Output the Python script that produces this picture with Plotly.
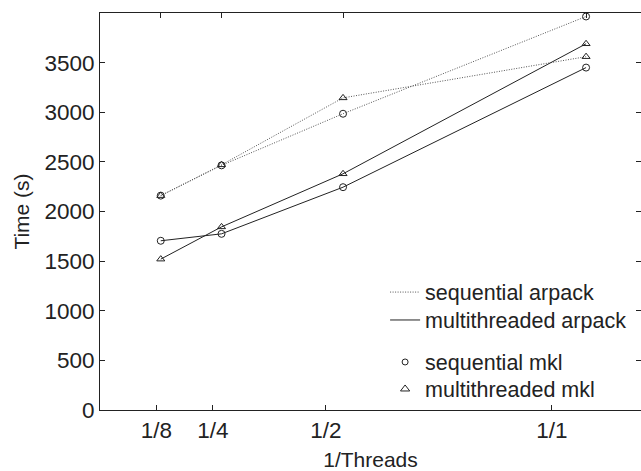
import plotly.graph_objects as go

x_vals = [0.125, 0.25, 0.5, 1.0]
x_labels = ["1/8", "1/4", "1/2", "1/1"]
y_ticks = [0, 500, 1000, 1500, 2000, 2500, 3000, 3500]

seq_arpack_seq_mkl = [2160, 2465, 2985, 3965]
seq_arpack_mt_mkl = [2160, 2470, 3145, 3560]
mt_arpack_seq_mkl = [1705, 1775, 2245, 3450]
mt_arpack_mt_mkl = [1520, 1845, 2380, 3690]

legend_names = ["sequential arpack", "multithreaded arpack", "sequential mkl", "multithreaded mkl"]

FONT = "Liberation Sans, Arial, sans-serif"
DARK = "#222222"
DOT = "#555555"
DOTDASH = "1px,1.5px"
FS_TICK = 22.5
FS_TITLE = 21
FS_LEG = 21.5

fig = go.Figure()

def add(y, dash, color, symbol):
    fig.add_trace(go.Scatter(
        x=x_vals, y=y, mode="lines+markers", showlegend=False,
        line=dict(color=color, width=1, dash=dash),
        marker=dict(symbol=symbol, size=7, color=DARK, line=dict(width=1)),
        xaxis="x", yaxis="y"))

add(seq_arpack_seq_mkl, DOTDASH, DOT, "circle-open")
add(seq_arpack_mt_mkl, DOTDASH, DOT, "triangle-up-open")
add(mt_arpack_seq_mkl, "solid", DARK, "circle-open")
add(mt_arpack_mt_mkl, "solid", DARK, "triangle-up-open")

# legend entries, each in its own legend box
fig.add_trace(go.Scatter(x=[None], y=[None], mode="lines", name=legend_names[0],
                         line=dict(color=DOT, width=1, dash=DOTDASH),
                         legend="legend", xaxis="x2", yaxis="y"))
fig.add_trace(go.Scatter(x=[None], y=[None], mode="lines", name=legend_names[1],
                         line=dict(color=DARK, width=1),
                         legend="legend2", xaxis="x2", yaxis="y"))
fig.add_trace(go.Scatter(x=[None], y=[None], mode="markers", name=legend_names[2],
                         marker=dict(symbol="circle-open", size=6, color=DARK, line=dict(width=1)),
                         legend="legend3", xaxis="x2", yaxis="y"))
fig.add_trace(go.Scatter(x=[None], y=[None], mode="markers", name=legend_names[3],
                         marker=dict(symbol="triangle-up-open", size=8, color=DARK, line=dict(width=1)),
                         legend="legend4", xaxis="x2", yaxis="y"))

def leg(y):
    return dict(x=0.527, y=y, xanchor="left", yanchor="middle",
                bgcolor="rgba(0,0,0,0)", font=dict(size=FS_LEG), itemwidth=30)

fig.update_layout(
    width=641, height=471,
    margin=dict(l=100, r=0, t=13, b=61),
    paper_bgcolor="white", plot_bgcolor="white",
    font=dict(family=FONT, size=FS_TICK, color=DARK),
    xaxis=dict(range=[0, 1.113], side="top", tickvals=x_vals, showticklabels=False,
               ticks="inside", ticklen=5, tickcolor=DARK, showline=True, linecolor=DARK,
               linewidth=1, showgrid=False, zeroline=False, automargin=False),
    xaxis2=dict(range=[0, 1.197], side="bottom", overlaying="x", anchor="y",
                tickvals=x_vals, ticktext=x_labels, ticks="inside", ticklen=5,
                tickcolor=DARK, showline=True, linecolor=DARK, linewidth=1,
                showgrid=False, zeroline=False, automargin=False,
                tickfont=dict(size=FS_TICK),
                title=dict(text="1/Threads", standoff=17, font=dict(size=FS_TITLE))),
    yaxis=dict(range=[0, 4000], tickvals=y_ticks, ticks="inside", ticklen=5,
               tickcolor=DARK, showline=True, linecolor=DARK, linewidth=1,
               mirror="ticks", showgrid=False, zeroline=False, automargin=False,
               tickfont=dict(size=FS_TICK),
               title=dict(text="Time (s)", standoff=9, font=dict(size=FS_TITLE))),
    legend=leg(0.297),
    legend2=leg(0.2267),
    legend3=leg(0.1209),
    legend4=leg(0.0529),
    showlegend=True,
)

fig.write_html("out.html", config={"displayModeBar": False},
               post_script="document.body.style.margin='0';")
